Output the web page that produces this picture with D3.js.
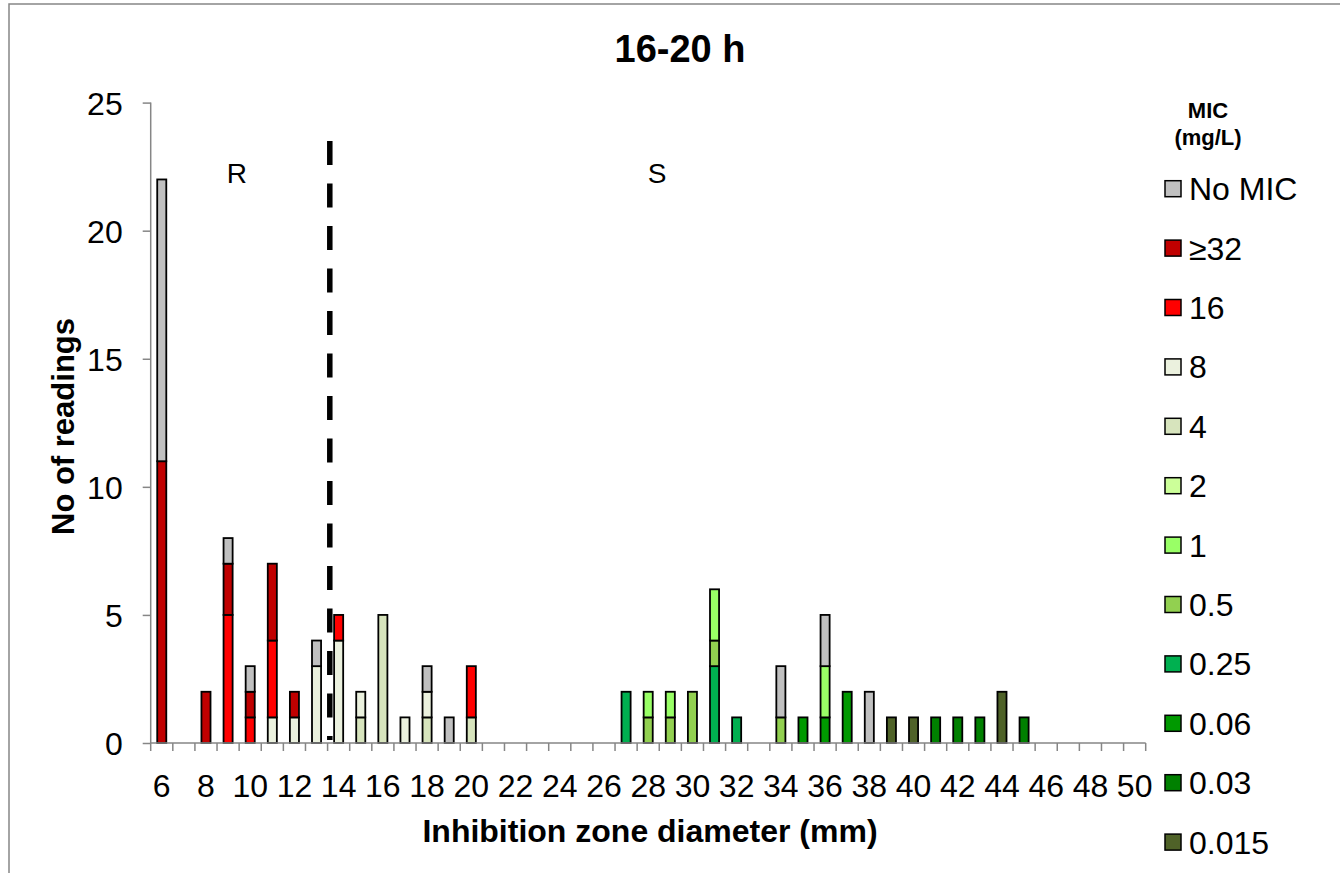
<!DOCTYPE html>
<html>
<head>
<meta charset="utf-8">
<script src="https://cdn.jsdelivr.net/npm/d3@7"></script>
<style>
  html, body { margin: 0; padding: 0; background: #ffffff; }
  svg { display: block; font-family: "Liberation Sans", Arial, sans-serif; }
</style>
</head>
<body>
<svg id="chart" width="1340" height="873"></svg>
<script>
// Inhibition zone diameters (mm), one category per millimetre
const diameters = [6, 7, 8, 9, 10, 11, 12, 13, 14, 15, 16, 17, 18, 19, 20, 21, 22, 23, 24, 25,
  26, 27, 28, 29, 30, 31, 32, 33, 34, 35, 36, 37, 38, 39, 40, 41, 42, 43, 44, 45, 46, 47, 48, 49, 50];

// Number of readings per diameter, split by MIC (mg/L)
//                 6  7  8  9 10 11 12 13 14 15 16 17 18 19 20 21 22 23 24 25 26 27 28 29 30 31 32 33 34 35 36 37 38 39 40 41 42 43 44 45 46 47 48 49 50
const micNone  = [11, 0, 0, 1, 1, 0, 0, 1, 0, 0, 0, 0, 1, 1, 0, 0, 0, 0, 0, 0, 0, 0, 0, 0, 0, 0, 0, 0, 2, 0, 2, 0, 2, 0, 0, 0, 0, 0, 0, 0, 0, 0, 0, 0, 0];
const mic32    = [11, 0, 2, 2, 1, 3, 1, 0, 0, 0, 0, 0, 0, 0, 0, 0, 0, 0, 0, 0, 0, 0, 0, 0, 0, 0, 0, 0, 0, 0, 0, 0, 0, 0, 0, 0, 0, 0, 0, 0, 0, 0, 0, 0, 0];
const mic16    = [ 0, 0, 0, 5, 1, 3, 0, 0, 1, 0, 0, 0, 0, 0, 2, 0, 0, 0, 0, 0, 0, 0, 0, 0, 0, 0, 0, 0, 0, 0, 0, 0, 0, 0, 0, 0, 0, 0, 0, 0, 0, 0, 0, 0, 0];
const mic8     = [ 0, 0, 0, 0, 0, 1, 1, 3, 4, 1, 0, 1, 1, 0, 0, 0, 0, 0, 0, 0, 0, 0, 0, 0, 0, 0, 0, 0, 0, 0, 0, 0, 0, 0, 0, 0, 0, 0, 0, 0, 0, 0, 0, 0, 0];
const mic4     = [ 0, 0, 0, 0, 0, 0, 0, 0, 0, 1, 5, 0, 1, 0, 1, 0, 0, 0, 0, 0, 0, 0, 0, 0, 0, 0, 0, 0, 0, 0, 0, 0, 0, 0, 0, 0, 0, 0, 0, 0, 0, 0, 0, 0, 0];
const mic2     = [ 0, 0, 0, 0, 0, 0, 0, 0, 0, 0, 0, 0, 0, 0, 0, 0, 0, 0, 0, 0, 0, 0, 0, 0, 0, 0, 0, 0, 0, 0, 0, 0, 0, 0, 0, 0, 0, 0, 0, 0, 0, 0, 0, 0, 0];
const mic1     = [ 0, 0, 0, 0, 0, 0, 0, 0, 0, 0, 0, 0, 0, 0, 0, 0, 0, 0, 0, 0, 0, 0, 1, 1, 0, 2, 0, 0, 0, 0, 2, 0, 0, 0, 0, 0, 0, 0, 0, 0, 0, 0, 0, 0, 0];
const mic05    = [ 0, 0, 0, 0, 0, 0, 0, 0, 0, 0, 0, 0, 0, 0, 0, 0, 0, 0, 0, 0, 0, 0, 1, 1, 2, 1, 0, 0, 1, 0, 0, 0, 0, 0, 0, 0, 0, 0, 0, 0, 0, 0, 0, 0, 0];
const mic025   = [ 0, 0, 0, 0, 0, 0, 0, 0, 0, 0, 0, 0, 0, 0, 0, 0, 0, 0, 0, 0, 0, 2, 0, 0, 0, 3, 1, 0, 0, 0, 0, 0, 0, 0, 0, 0, 0, 0, 0, 0, 0, 0, 0, 0, 0];
const mic006   = [ 0, 0, 0, 0, 0, 0, 0, 0, 0, 0, 0, 0, 0, 0, 0, 0, 0, 0, 0, 0, 0, 0, 0, 0, 0, 0, 0, 0, 0, 1, 1, 2, 0, 0, 0, 0, 0, 0, 0, 0, 0, 0, 0, 0, 0];
const mic003   = [ 0, 0, 0, 0, 0, 0, 0, 0, 0, 0, 0, 0, 0, 0, 0, 0, 0, 0, 0, 0, 0, 0, 0, 0, 0, 0, 0, 0, 0, 0, 0, 0, 0, 0, 0, 1, 1, 1, 0, 1, 0, 0, 0, 0, 0];
const mic0015  = [ 0, 0, 0, 0, 0, 0, 0, 0, 0, 0, 0, 0, 0, 0, 0, 0, 0, 0, 0, 0, 0, 0, 0, 0, 0, 0, 0, 0, 0, 0, 0, 0, 0, 1, 1, 0, 0, 0, 2, 0, 0, 0, 0, 0, 0];

// Series in legend order (top of the stack first)
const seriesNames  = ["No MIC", "≥32", "16", "8", "4", "2", "1", "0.5", "0.25", "0.06", "0.03", "0.015"];
const seriesValues = [micNone, mic32, mic16, mic8, mic4, mic2, mic1, mic05, mic025, mic006, mic003, mic0015];
const seriesColors = ["#C0C0C0", "#C00000", "#FF0000", "#EBF1DE", "#D7E4BD", "#CCFF99",
                      "#99FF66", "#92D050", "#00B050", "#009900", "#008000", "#4F6228"];

const yTicks = [0, 5, 10, 15, 20, 25];
const xTickLabels = diameters.filter(d => d % 2 === 0);
const breakpointMm = 13.6;   // R / S breakpoint
const regionLabels = [{ text: "R", mm: 9.4 }, { text: "S", mm: 28.4 }];

const svg = d3.select("#chart");

// outer frame
svg.append("rect")
  .attr("x", 9).attr("y", 4).attr("width", 1400).attr("height", 950)
  .attr("fill", "none").attr("stroke", "#868686").attr("stroke-width", 1.5);

const plot = { left: 150.7, right: 1145.7, top: 102.6, bottom: 743 };

const x = d3.scaleBand()
  .domain(diameters)
  .range([plot.left, plot.right])
  .paddingInner(0.59)
  .paddingOuter(0.295);

const step = (plot.right - plot.left) / diameters.length;
// continuous position in mm (centre of each category)
const xMm = d3.scaleLinear()
  .domain([diameters[0], diameters[diameters.length - 1]])
  .range([plot.left + step / 2, plot.right - step / 2]);

const y = d3.scaleLinear().domain([0, 25]).range([plot.bottom, plot.top]);

// stacked data: bottom of the stack is the last legend entry
const rows = diameters.map((d, i) => {
  const r = { mm: d };
  seriesNames.forEach((n, s) => { r[n] = seriesValues[s][i]; });
  return r;
});
const stackOrder = seriesNames.slice().reverse();
const stacked = d3.stack().keys(stackOrder)(rows);
const colorOf = d3.scaleOrdinal().domain(seriesNames).range(seriesColors);

const barW = x.bandwidth();
svg.append("g").selectAll("g")
  .data(stacked)
  .join("g")
  .attr("fill", d => colorOf(d.key))
  .selectAll("rect")
  .data(d => d.filter(p => p[1] - p[0] > 0))
  .join("rect")
  .attr("x", p => x(p.data.mm))
  .attr("y", p => y(p[1]))
  .attr("width", barW)
  .attr("height", p => y(p[0]) - y(p[1]))
  .attr("stroke", "#000")
  .attr("stroke-width", 1.8);

// axes
const axisColor = "#868686";
const yAxis = svg.append("g")
  .attr("transform", `translate(${plot.left},0)`)
  .call(d3.axisLeft(y).tickValues(yTicks).tickSize(8).tickPadding(20));
const xAxis = svg.append("g")
  .attr("transform", `translate(0,${plot.bottom})`)
  .call(d3.axisBottom(x).tickValues(xTickLabels).tickSize(0).tickPadding(31));

[yAxis, xAxis].forEach(g => {
  g.select(".domain").attr("stroke", axisColor).attr("stroke-width", 1.5);
  g.selectAll(".tick line").attr("stroke", axisColor).attr("stroke-width", 1.5);
  g.selectAll("text").attr("fill", "#000").style("font-size", "32px")
    .style("font-family", "'Liberation Sans', Arial, sans-serif");
});
yAxis.select(".domain").attr("d", `M-0,${plot.bottom}V${plot.top}`);
yAxis.selectAll(".tick text").attr("dy", "0.36em");
xAxis.select(".domain").attr("d", `M${plot.left},0H${plot.right}`);

// category boundary ticks on the x axis
svg.append("g").selectAll("line")
  .data(d3.range(diameters.length + 1))
  .join("line")
  .attr("x1", i => plot.left + i * step).attr("x2", i => plot.left + i * step)
  .attr("y1", plot.bottom).attr("y2", plot.bottom + 8)
  .attr("stroke", axisColor).attr("stroke-width", 1.5);

// breakpoint line
svg.append("line")
  .attr("x1", xMm(breakpointMm)).attr("x2", xMm(breakpointMm))
  .attr("y1", 141).attr("y2", 740)
  .attr("stroke", "#000").attr("stroke-width", 5.5)
  .attr("stroke-dasharray", "24 18.5");

// R / S labels
svg.append("g").selectAll("text")
  .data(regionLabels)
  .join("text")
  .attr("x", d => xMm(d.mm)).attr("y", 183)
  .attr("text-anchor", "middle")
  .style("font-size", "28px")
  .text(d => d.text);

// title
svg.append("text")
  .attr("x", 680).attr("y", 62)
  .attr("text-anchor", "middle")
  .style("font-size", "38px").style("font-weight", "bold")
  .text("16-20 h");

// axis titles
svg.append("text")
  .attr("x", 650).attr("y", 842)
  .attr("text-anchor", "middle")
  .style("font-size", "32px").style("font-weight", "bold")
  .text("Inhibition zone diameter (mm)");

svg.append("text")
  .attr("transform", "translate(74,426.5) rotate(-90)")
  .attr("text-anchor", "middle")
  .style("font-size", "31px").style("font-weight", "bold")
  .text("No of readings");

// legend
const legend = svg.append("g");
legend.append("text").attr("x", 1208).attr("y", 118)
  .attr("text-anchor", "middle").style("font-size", "22px").style("font-weight", "bold")
  .text("MIC");
legend.append("text").attr("x", 1208).attr("y", 145)
  .attr("text-anchor", "middle").style("font-size", "22px").style("font-weight", "bold")
  .text("(mg/L)");

const rowY = d3.scalePoint().domain(seriesNames).range([188.7, 842.1]);
const items = legend.selectAll("g.item")
  .data(seriesNames)
  .join("g").attr("class", "item")
  .attr("transform", d => `translate(0,${rowY(d)})`);
items.append("rect")
  .attr("x", 1165).attr("y", -8).attr("width", 16).attr("height", 16)
  .attr("fill", d => colorOf(d)).attr("stroke", "#000").attr("stroke-width", 1.5);
items.append("text")
  .attr("x", 1189).attr("y", 11.5)
  .style("font-size", "32px")
  .text(d => d);
</script>
</body>
</html>
